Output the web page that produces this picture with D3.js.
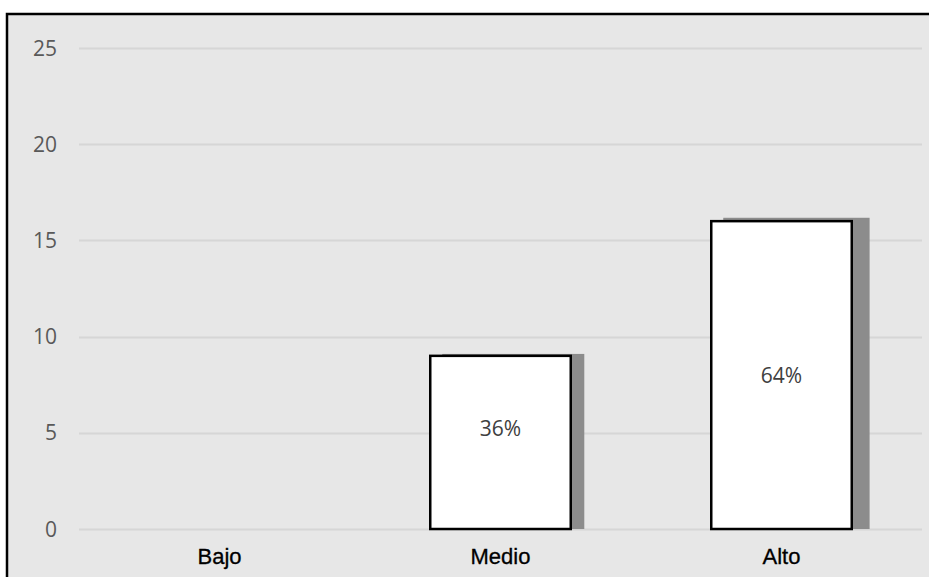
<!DOCTYPE html>
<html>
<head>
<meta charset="utf-8">
<script src="https://cdn.jsdelivr.net/npm/d3@7/dist/d3.min.js"></script>
<style>
  html, body { margin: 0; padding: 0; background: #ffffff; overflow: hidden; }
  svg { display: block; }
</style>
</head>
<body>
<svg id="chart" width="929" height="577"></svg>
<script>
// Nivel categories and their counts
const categories = ["Bajo", "Medio", "Alto"];
const counts = [0, 9, 16];
const yTicks = [0, 5, 10, 15, 20, 25];

const W = 929, H = 577;
const svg = d3.select("#chart");

// Chart area: grey panel with black frame on top and left
svg.append("rect")
  .attr("x", 7).attr("y", 14)
  .attr("width", W + 100).attr("height", H + 100)
  .attr("fill", "#e7e7e7")
  .attr("stroke", "#000").attr("stroke-width", 2.5);

const plot = { left: 79, right: 922, top: 48, bottom: 529 };

const x = d3.scaleBand()
  .domain(categories)
  .range([plot.left, plot.right])
  .paddingInner(0.5)
  .paddingOuter(0.25);

const y = d3.scaleLinear()
  .domain([0, 25])
  .range([plot.bottom, plot.top]);

// Horizontal gridlines
svg.append("g")
  .selectAll("line")
  .data(yTicks)
  .join("line")
  .attr("x1", plot.left).attr("x2", plot.right)
  .attr("y1", d => Math.round(y(d)) + 0.5)
  .attr("y2", d => Math.round(y(d)) + 0.5)
  .attr("stroke", "#d6d6d6")
  .attr("stroke-width", 2);

// Y axis labels
svg.append("g")
  .selectAll("text")
  .data(yTicks)
  .join("text")
  .attr("x", 57)
  .attr("y", d => y(d))
  .attr("dy", "0.36em")
  .attr("text-anchor", "end")
  .attr("font-family", "'Open Sans', 'Noto Sans', sans-serif")
  .attr("font-size", 21)
  .attr("fill", "#595959")
  .text(d => d);

const rows = categories.map((c, i) => ({ cat: c, value: counts[i] }));
const total = d3.sum(counts);
const bars = rows.filter(d => d.value > 0);

// Soft drop shadow behind each bar (grows slightly with bar height)
svg.append("g")
  .selectAll("rect")
  .data(bars)
  .join("rect")
  .attr("x", d => x(d.cat) + 12)
  .attr("y", d => {
    const h = y(0) - y(d.value);
    return y(d.value) - h * 0.011;
  })
  .attr("width", d => x.bandwidth() - 12 + 8 + (y(0) - y(d.value)) * 0.032)
  .attr("height", d => (y(0) - y(d.value)) * 1.011)
  .attr("fill", "#8c8c8c");

// Bars
svg.append("g")
  .selectAll("rect")
  .data(bars)
  .join("rect")
  .attr("x", d => x(d.cat))
  .attr("y", d => y(d.value))
  .attr("width", x.bandwidth())
  .attr("height", d => y(0) - y(d.value))
  .attr("fill", "#ffffff")
  .attr("stroke", "#000")
  .attr("stroke-width", 2.5);

// Percentage labels inside bars
const lift = { Medio: 14, Alto: 0 };
svg.append("g")
  .selectAll("text")
  .data(bars)
  .join("text")
  .attr("x", d => x(d.cat) + x.bandwidth() / 2)
  .attr("y", d => (y(d.value) + y(0)) / 2 - (lift[d.cat] || 0))
  .attr("dy", "0.36em")
  .attr("text-anchor", "middle")
  .attr("font-family", "'Open Sans', 'Noto Sans', sans-serif")
  .attr("font-size", 21)
  .attr("fill", "#404040")
  .text(d => Math.round(d.value / total * 100) + "%");

// Category labels
svg.append("g")
  .selectAll("text")
  .data(categories)
  .join("text")
  .attr("x", d => x(d) + x.bandwidth() / 2)
  .attr("y", 564)
  .attr("text-anchor", "middle")
  .attr("font-family", "'Liberation Sans', Arial, sans-serif")
  .attr("font-size", 22)
  .attr("fill", "#000")
  .attr("stroke", "#000")
  .attr("stroke-width", 0.3)
  .text(d => d);
</script>
</body>
</html>
